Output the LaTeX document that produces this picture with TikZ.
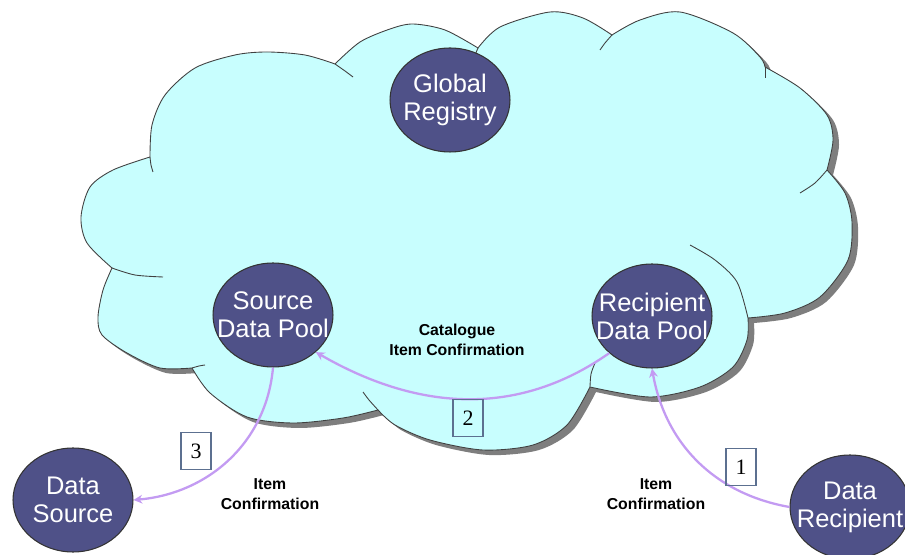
\documentclass[tikz,border=0pt]{standalone}
\usepackage{fontspec}
\setmainfont{Liberation Sans}
\newfontfamily\numfont{Liberation Serif}
\usetikzlibrary{shapes.geometric,arrows.meta}
\definecolor{cloudfill}{HTML}{C8FEFE}
\definecolor{shadowgray}{HTML}{7E7E7E}
\definecolor{poolfill}{HTML}{4F5188}
\definecolor{flowline}{HTML}{C39BF2}
\definecolor{boxline}{HTML}{5C7090}
\tikzset{
  pool/.style={ellipse,draw=black!80,fill=poolfill,line width=0.6pt,
    minimum width=2.4cm,minimum height=2.08cm,inner sep=0pt},
  pooltext/.style={text=white,align=center,font=\fontsize{14.5}{16}\selectfont},
  flow/.style={draw=flowline,line width=1.3pt,-{Stealth[length=5pt,width=5pt]}},
  stepnum/.style={draw=boxline,line width=0.6pt,minimum width=0.6cm,
    minimum height=0.74cm,inner sep=0pt,font=\numfont\fontsize{12.5}{12.5}\selectfont},
  msg/.style={align=center,font=\bfseries\fontsize{9}{11.5}\selectfont},
  cloudline/.style={draw=black!75,line width=0.5pt}
}
\begin{document}
\begin{tikzpicture}[x=0.02cm,y=0.02cm]
    \useasboundingbox (0,0) rectangle (905,554);

    % Cloud
    \path[cloudline,fill=cloudfill,
      preaction={fill=shadowgray,transform canvas={xshift=0.12cm,yshift=-0.1cm}}]
      (112,286)
      -- plot[smooth] coordinates {(112,286) (87,311) (81,337) (90,367) (113,384) (150,397)}
      -- plot[smooth] coordinates {(150,397) (152,429) (165,459) (195,486) (235,499) (267,502) (305,499) (335,490)}
      -- plot[smooth] coordinates {(335,490) (360,512) (390,525) (413,530) (445,524) (478,506)}
      -- plot[smooth] coordinates {(478,506) (500,527) (550,542) (583,536) (612,519)}
      -- plot[smooth] coordinates {(612,519) (640,534) (680,542) (733,521) (760,497) (765,487)}
      -- plot[smooth] coordinates {(765,487) (800,466) (827,439) (833,414) (827,384)}
      -- plot[smooth] coordinates {(827,384) (845,361) (852,332) (848,294) (820,257) (785,241) (748,236)}
      -- plot[smooth] coordinates {(748,236) (747,214) (733,187) (700,167) (650,157) (590,167)}
      -- plot[smooth] coordinates {(590,167) (567,129) (533,109) (483,104) (430,114) (395,129) (378,144)}
      -- plot[smooth] coordinates {(378,144) (343,136) (293,131) (247,137) (210,161) (192,186)}
      -- plot[smooth] coordinates {(192,186) (160,186) (127,201) (102,219) (98,237) (103,264) (112,286)}
      -- cycle;

    % Inner ends of the bumps
    \draw[cloudline] plot[smooth] coordinates {(150,397) (151,389) (153,382)};
    \draw[cloudline] plot[smooth] coordinates {(335,490) (345,483) (353,477)};
    \draw[cloudline] plot[smooth] coordinates {(478,506) (475,499) (472,492)};
    \draw[cloudline] plot[smooth] coordinates {(612,519) (605,511) (600,504)};
    \draw[cloudline] plot[smooth] coordinates {(765,487) (765,481) (765,476)};
    \draw[cloudline] plot[smooth] coordinates {(827,384) (815,371) (800,361)};
    \draw[cloudline] plot[smooth] coordinates {(748,236) (737,272) (715,294) (690,309)};
    \draw[cloudline] plot[smooth] coordinates {(590,167) (591,180) (595,191)};
    \draw[cloudline] plot[smooth] coordinates {(378,144) (369,154) (363,162)};
    \draw[cloudline] plot[smooth] coordinates {(192,186) (199,188) (205,189)};
    \draw[cloudline] plot[smooth] coordinates {(112,286) (135,279) (163,277)};

    % Pools and parties
    \node[pool,label={[pooltext]center:Global\\Registry}] (registry) at (450,454) {};
    \node[pool,label={[pooltext]center:Source\\Data Pool}] (spool) at (273,239) {};
    \node[pool,label={[pooltext]center:Recipient\\Data Pool}] (rpool) at (652,238) {};
    \node[pool,label={[pooltext]center:Data\\Source}] (dsource) at (73,54) {};
    \node[pool,label={[pooltext]center:Data\\Recipient}] (drecip) at (850,47) {};

    % Messages
    \draw[flow] (drecip.west) to[out=170,in=-80] (rpool.south);
    \draw[flow] (rpool.south west) to[out=215,in=-30] (spool.south east);
    \draw[flow] (spool.south) to[out=-95,in=5] (dsource.east);

    \node[msg] (catmsg) at (457,214) {Catalogue\\Item Confirmation};
    \node[msg] (srcmsg) at (270,60) {Item\\Confirmation};
    \node[msg] (rcpmsg) at (656,60) {Item\\Confirmation};

    % Step numbers
    \node[stepnum] (one) at (741,87) {1};
    \node[stepnum] (two) at (468,136) {2};
    \node[stepnum] (three) at (196,103) {3};
\end{tikzpicture}
\end{document}
